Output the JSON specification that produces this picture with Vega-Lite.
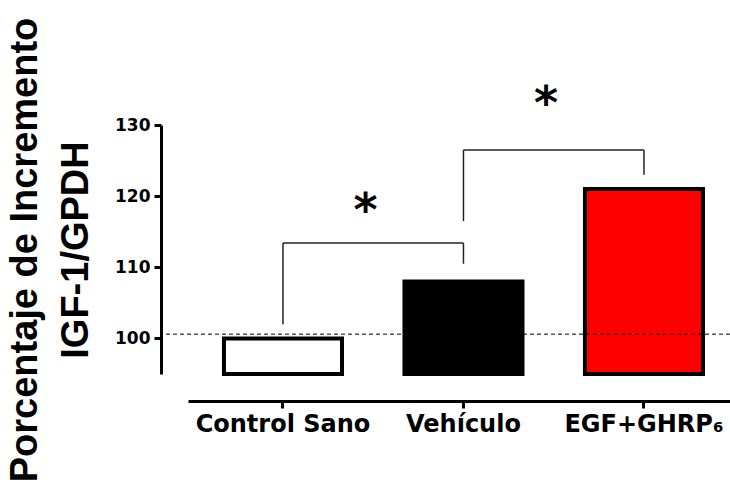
{
  "$schema": "https://vega.github.io/schema/vega-lite/v6.json",
  "autosize": {"type": "none"},
  "width": 569,
  "height": 249,
  "padding": {"left": 161, "top": 125, "right": 0, "bottom": 111},
  "background": "white",
  "config": {"view": {"stroke": null}},
  "datasets": {
    "barras": [
      {"grupo": "Control Sano", "valor": 100},
      {"grupo": "Vehículo", "valor": 108},
      {"grupo": "EGF+GHRP₆", "valor": 121}
    ],
    "comparaciones": [
      {"desde": "Control Sano", "hasta": "Vehículo", "altura": 113.4, "pie_desde": 102, "pie_hasta": 110.5, "signo": "*", "y_signo": 118.7},
      {"desde": "Vehículo", "hasta": "EGF+GHRP₆", "altura": 126.5, "pie_desde": 116.5, "pie_hasta": 123, "signo": "*", "y_signo": 133.8}
    ],
    "referencia": [{"nivel": 100.6}]
  },
  "layer": [
    {
      "data": {"name": "barras"},
      "mark": {"type": "bar", "stroke": "black", "strokeWidth": 4, "strokeJoin": "miter"},
      "encoding": {
        "x": {
          "field": "grupo", "type": "nominal",
          "scale": {"domain": ["Control Sano", "Vehículo", "EGF+GHRP₆"], "range": [27, 569], "paddingInner": 0.346, "paddingOuter": 0.1745, "align": 0.571},
          "axis": {
            "title": null, "labelAngle": 0, "offset": 27, "grid": false,
            "domainWidth": 3, "domainColor": "black", "tickWidth": 3, "tickColor": "black", "tickSize": 7,
            "labelFont": "DejaVu Sans", "labelFontWeight": "bold", "labelFontSize": 24, "labelColor": "black", "labelPadding": 4
          }
        },
        "y": {
          "field": "valor", "type": "quantitative",
          "scale": {"domain": [95, 130], "nice": false, "zero": false},
          "axis": {
            "values": [100, 110, 120, 130], "grid": false,
            "domainWidth": 3, "domainColor": "black", "tickWidth": 3, "tickColor": "black", "tickSize": 7,
            "labelFont": "DejaVu Sans", "labelFontWeight": "bold", "labelFontSize": 17, "labelColor": "black", "labelPadding": 4,
            "title": ["Porcentaje de Incremento", "IGF-1/GPDH"],
            "titleFont": "Liberation Sans", "titleFontWeight": "bold", "titleFontSize": 38, "titleColor": "black",
            "titleLineHeight": 51, "titlePadding": 19
          }
        },
        "y2": {"datum": 95},
        "color": {
          "field": "grupo", "type": "nominal",
          "scale": {"domain": ["Control Sano", "Vehículo", "EGF+GHRP₆"], "range": ["#ffffff", "#000000", "#ff0000"]},
          "legend": null
        }
      }
    },
    {
      "data": {"name": "referencia"},
      "mark": {"type": "rule", "color": "black", "strokeWidth": 1, "strokeDash": [4, 3]},
      "encoding": {"y": {"field": "nivel", "type": "quantitative"}}
    },
    {
      "data": {"name": "comparaciones"},
      "mark": {"type": "rule", "color": "#222222", "strokeWidth": 1.5},
      "encoding": {
        "x": {"field": "desde", "type": "nominal", "bandPosition": 0.5},
        "x2": {"field": "hasta", "bandPosition": 0.5},
        "y": {"field": "altura", "type": "quantitative"}
      }
    },
    {
      "data": {"name": "comparaciones"},
      "mark": {"type": "rule", "color": "#222222", "strokeWidth": 1.5},
      "encoding": {
        "x": {"field": "desde", "type": "nominal", "bandPosition": 0.5},
        "y": {"field": "pie_desde", "type": "quantitative"},
        "y2": {"field": "altura"}
      }
    },
    {
      "data": {"name": "comparaciones"},
      "mark": {"type": "rule", "color": "#222222", "strokeWidth": 1.5},
      "encoding": {
        "x": {"field": "hasta", "type": "nominal", "bandPosition": 0.5},
        "y": {"field": "pie_hasta", "type": "quantitative"},
        "y2": {"field": "altura"}
      }
    },
    {
      "data": {"name": "comparaciones"},
      "mark": {"type": "text", "font": "DejaVu Sans", "fontWeight": "bold", "fontSize": 46, "color": "black", "baseline": "middle", "align": "center", "dy": 7},
      "encoding": {
        "x": {"field": "desde", "type": "nominal", "bandPosition": 1.2},
        "y": {"field": "y_signo", "type": "quantitative"},
        "text": {"field": "signo"}
      }
    }
  ]
}
